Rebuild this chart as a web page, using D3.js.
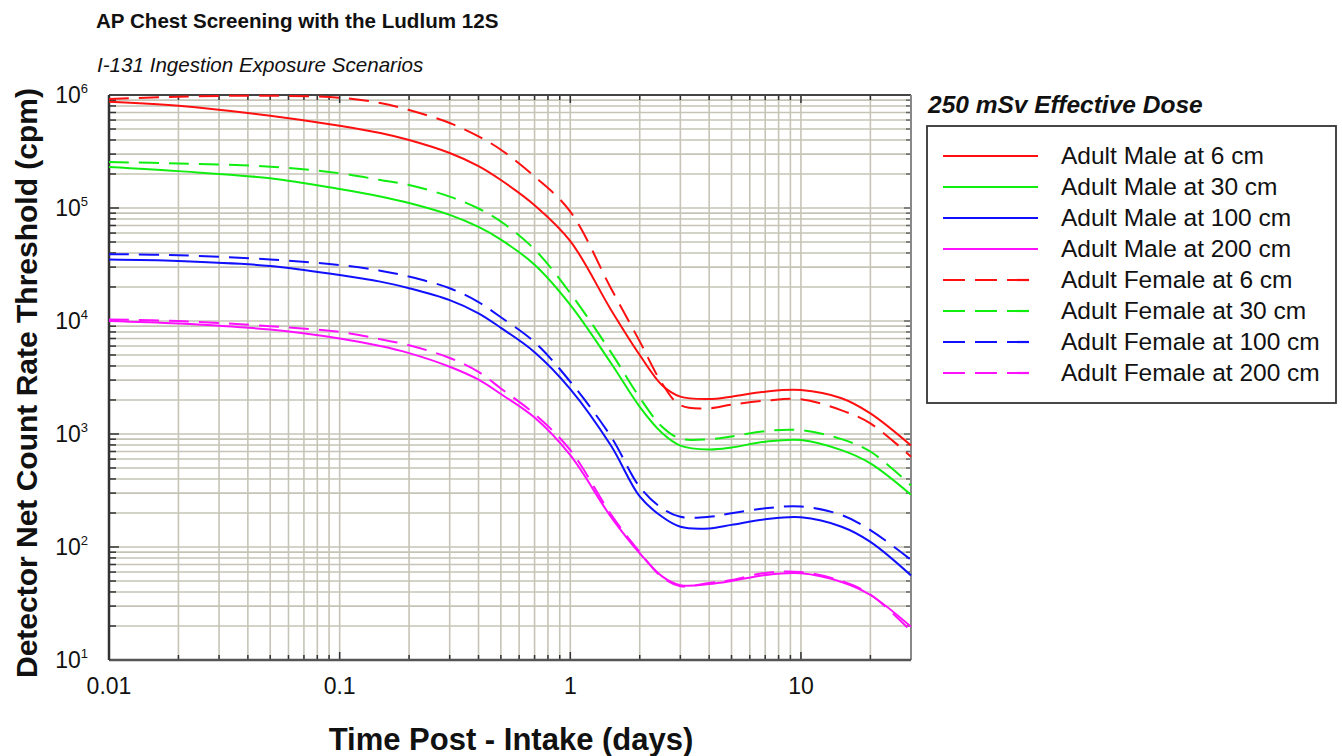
<!DOCTYPE html>
<html>
<head>
<meta charset="utf-8">
<script src="https://cdn.jsdelivr.net/npm/d3@7"></script>
<style>
  html, body { margin: 0; padding: 0; background: #ffffff; }
  svg { display: block; }
  text { font-family: "Liberation Sans", Arial, Helvetica, sans-serif; fill: #111; }
</style>
</head>
<body>
<svg id="chart" width="1342" height="756"></svg>
<script>
// ---------------- data ----------------
const days = [0.01, 0.02, 0.05, 0.1, 0.15, 0.2, 0.3, 0.4, 0.5, 0.7, 1, 1.5, 2, 2.5, 3, 4, 5, 7, 10, 15, 20, 30];

const maleAt6cm    = [8.72e5, 8.04e5, 6.56e5, 5.35e5, 4.61e5, 4.0e5, 3.07e5, 2.35e5, 1.77e5, 1.06e5, 5.1e4, 1.26e4, 5.0e3, 2.7e3, 2.14e3, 2.04e3, 2.14e3, 2.37e3, 2.45e3, 2.07e3, 1.52e3, 7.9e2];
const maleAt30cm   = [2.31e5, 2.12e5, 1.83e5, 1.47e5, 1.264e5, 1.107e5, 8.7e4, 6.8e4, 5.25e4, 3.15e4, 1.39e4, 4.25e3, 1.74e3, 1.02e3, 7.9e2, 7.3e2, 7.6e2, 8.55e2, 8.85e2, 7.2e2, 5.5e2, 2.9e2];
const maleAt100cm  = [3.5e4, 3.4e4, 3.07e4, 2.55e4, 2.23e4, 1.95e4, 1.53e4, 1.17e4, 8.7e3, 5.3e3, 2.5e3, 7.9e2, 2.8e2, 1.85e2, 1.51e2, 1.46e2, 1.57e2, 1.76e2, 1.83e2, 1.51e2, 1.11e2, 5.6e1];
const maleAt200cm  = [1.0e4, 9.5e3, 8.4e3, 7.0e3, 6.0e3, 5.2e3, 3.94e3, 3.03e3, 2.26e3, 1.4e3, 6.5e2, 1.85e2, 8.8e1, 5.5e1, 4.6e1, 4.7e1, 5.0e1, 5.65e1, 5.85e1, 4.9e1, 3.76e1, 1.97e1];
const femaleAt6cm   = [9.2e5, 9.66e5, 9.86e5, 9.46e5, 8.5e5, 7.36e5, 5.65e5, 4.3e5, 3.28e5, 1.9e5, 9.3e4, 1.95e4, 6.6e3, 2.8e3, 1.8e3, 1.69e3, 1.82e3, 1.97e3, 2.03e3, 1.62e3, 1.24e3, 6.3e2];
const femaleAt30cm  = [2.55e5, 2.48e5, 2.32e5, 2.03e5, 1.77e5, 1.6e5, 1.26e5, 9.9e4, 7.6e4, 4.3e4, 1.76e4, 5.3e3, 2.1e3, 1.16e3, 9.1e2, 9.0e2, 9.5e2, 1.06e3, 1.08e3, 9.0e2, 7.0e2, 3.5e2];
const femaleAt100cm = [3.9e4, 3.82e4, 3.5e4, 3.13e4, 2.79e4, 2.47e4, 1.95e4, 1.47e4, 1.08e4, 6.5e3, 2.9e3, 9.5e2, 3.4e2, 2.2e2, 1.85e2, 1.85e2, 1.99e2, 2.2e2, 2.28e2, 1.92e2, 1.41e2, 7.7e1];
const femaleAt200cm = [1.03e4, 1.0e4, 9.0e3, 8.0e3, 6.9e3, 6.1e3, 4.71e3, 3.54e3, 2.53e3, 1.5e3, 7.2e2, 1.95e2, 9.0e1, 5.4e1, 4.5e1, 4.8e1, 5.1e1, 5.9e1, 6.0e1, 5.0e1, 3.8e1, 1.8e1];

const seriesNames = ["Adult Male at 6 cm", "Adult Male at 30 cm", "Adult Male at 100 cm", "Adult Male at 200 cm",
                     "Adult Female at 6 cm", "Adult Female at 30 cm", "Adult Female at 100 cm", "Adult Female at 200 cm"];
const seriesValues = [maleAt6cm, maleAt30cm, maleAt100cm, maleAt200cm, femaleAt6cm, femaleAt30cm, femaleAt100cm, femaleAt200cm];
const seriesColors = ["#ff1010", "#10ee10", "#1010ff", "#ff10ff", "#ff1010", "#10ee10", "#1010ff", "#ff10ff"];
const seriesDashed = [false, false, false, false, true, true, true, true];

const xTickValues = [0.01, 0.1, 1, 10];
const xTickLabels = ["0.01", "0.1", "1", "10"];
const yTickValues = [1e1, 1e2, 1e3, 1e4, 1e5, 1e6];
const yTickExponents = ["1", "2", "3", "4", "5", "6"];

const titleText = "AP Chest Screening with the Ludlum 12S";
const subtitleText = "I-131 Ingestion Exposure Scenarios";
const legendTitleText = "250 mSv Effective Dose";
const xAxisTitle = "Time Post - Intake (days)";
const yAxisTitle = "Detector Net Count Rate Threshold (cpm)";

// ---------------- layout ----------------
const svg = d3.select("#chart");
const plot = { left: 109, right: 911, top: 95, bottom: 660 };

const x = d3.scaleLog().domain([0.01, 30]).range([plot.left, plot.right]);
const y = d3.scaleLog().domain([10, 1e6]).range([plot.bottom, plot.top]);

const xGrid = [];
for (let d = 0.01; d < 30; d *= 10) {
  for (let k = 1; k <= 9; k++) { const v = +(d * k).toPrecision(3); if (v <= 30) xGrid.push(v); }
}
const yGrid = [];
for (let d = 10; d < 1e6; d *= 10) { for (let k = 1; k <= 9; k++) yGrid.push(+(d * k).toPrecision(3)); }
yGrid.push(1e6);

const gridColor = "#c6c4b6";
const g = svg.append("g");

g.append("g").selectAll("line").data(xGrid).join("line")
  .attr("x1", d => x(d)).attr("x2", d => x(d))
  .attr("y1", plot.top).attr("y2", plot.bottom)
  .attr("stroke", gridColor).attr("stroke-width", 1.6);

g.append("g").selectAll("line").data(yGrid).join("line")
  .attr("y1", d => y(d)).attr("y2", d => y(d))
  .attr("x1", plot.left).attr("x2", plot.right)
  .attr("stroke", gridColor).attr("stroke-width", 1.6);

const ticks = g.append("g").attr("stroke", "#333").attr("stroke-width", 1.5);
ticks.selectAll(".lt").data(yGrid).join("line")
  .attr("x1", plot.left).attr("x2", d => plot.left + (yTickValues.includes(d) ? 10 : 7))
  .attr("y1", d => y(d)).attr("y2", d => y(d));
ticks.selectAll(".rt").data(yGrid).join("line")
  .attr("x1", plot.right).attr("x2", d => plot.right - (yTickValues.includes(d) ? 7 : 5))
  .attr("y1", d => y(d)).attr("y2", d => y(d)).attr("stroke", "#666");
ticks.selectAll(".bt").data(xGrid).join("line")
  .attr("x1", d => x(d)).attr("x2", d => x(d))
  .attr("y1", plot.bottom).attr("y2", d => plot.bottom - (xTickValues.includes(d) ? 8 : 5));
ticks.selectAll(".tt").data(xGrid).join("line")
  .attr("x1", d => x(d)).attr("x2", d => x(d))
  .attr("y1", plot.top).attr("y2", d => plot.top + (xTickValues.includes(d) ? 8 : 5));

g.append("line").attr("x1", plot.left).attr("x2", plot.right).attr("y1", plot.top).attr("y2", plot.top)
  .attr("stroke", "#444").attr("stroke-width", 1.8);
g.append("line").attr("x1", plot.right).attr("x2", plot.right).attr("y1", plot.top).attr("y2", plot.bottom)
  .attr("stroke", "#888").attr("stroke-width", 2);
g.append("line").attr("x1", plot.left).attr("x2", plot.right).attr("y1", plot.bottom).attr("y2", plot.bottom)
  .attr("stroke", "#555").attr("stroke-width", 2.5);
g.append("line").attr("x1", plot.left).attr("x2", plot.left).attr("y1", plot.top).attr("y2", plot.bottom)
  .attr("stroke", "#333").attr("stroke-width", 2.5);

// curves
const line = d3.line().x(d => x(d[0])).y(d => y(d[1])).curve(d3.curveCatmullRom.alpha(0.5));
const curves = g.append("g").attr("fill", "none");
seriesValues.forEach((vals, i) => {
  curves.append("path")
    .datum(days.map((dd, j) => [dd, vals[j]]))
    .attr("d", line)
    .attr("stroke", seriesColors[i])
    .attr("stroke-width", 2)
    .attr("stroke-dasharray", seriesDashed[i] ? "20,10" : null);
});

// tick labels
g.append("g").selectAll("text").data(xTickValues).join("text")
  .attr("x", d => x(d)).attr("y", 694)
  .attr("text-anchor", "middle").attr("font-size", 23)
  .text((d, i) => xTickLabels[i]);

const yl = g.append("g").selectAll("text").data(yTickValues).join("text")
  .attr("x", 88).attr("y", d => y(d) + 8)
  .attr("text-anchor", "end").attr("font-size", 23);
yl.append("tspan").text("10");
yl.append("tspan").attr("font-size", 13).attr("dy", -10).text((d, i) => yTickExponents[i]);

// titles
svg.append("text").attr("x", 96).attr("y", 28).attr("font-size", 20.6).attr("font-weight", "bold").text(titleText);
svg.append("text").attr("x", 97).attr("y", 72).attr("font-size", 20.6).attr("font-style", "italic").text(subtitleText);
svg.append("text").attr("x", 511).attr("y", 750).attr("text-anchor", "middle")
  .attr("font-size", 31).attr("font-weight", "bold").text(xAxisTitle);
svg.append("text").attr("transform", "translate(37,383) rotate(-90)").attr("text-anchor", "middle")
  .attr("font-size", 30).attr("font-weight", "bold").text(yAxisTitle);

// legend
svg.append("text").attr("x", 928).attr("y", 113).attr("font-size", 24.5)
  .attr("font-weight", "bold").attr("font-style", "italic").text(legendTitleText);
svg.append("rect").attr("x", 927).attr("y", 126).attr("width", 409).attr("height", 277)
  .attr("fill", "#fff").attr("stroke", "#333").attr("stroke-width", 1.8);
const leg = svg.append("g");
seriesNames.forEach((name, i) => {
  const ly = 156 + i * 31;
  leg.append("line").attr("x1", 943).attr("x2", seriesDashed[i] ? 1029 : 1038)
    .attr("y1", ly).attr("y2", ly)
    .attr("stroke", seriesColors[i]).attr("stroke-width", 2.2)
    .attr("stroke-dasharray", seriesDashed[i] ? "22,10" : null);
  leg.append("text").attr("x", 1061).attr("y", ly + 8).attr("font-size", 24.5).text(name);
});
</script>
</body>
</html>
